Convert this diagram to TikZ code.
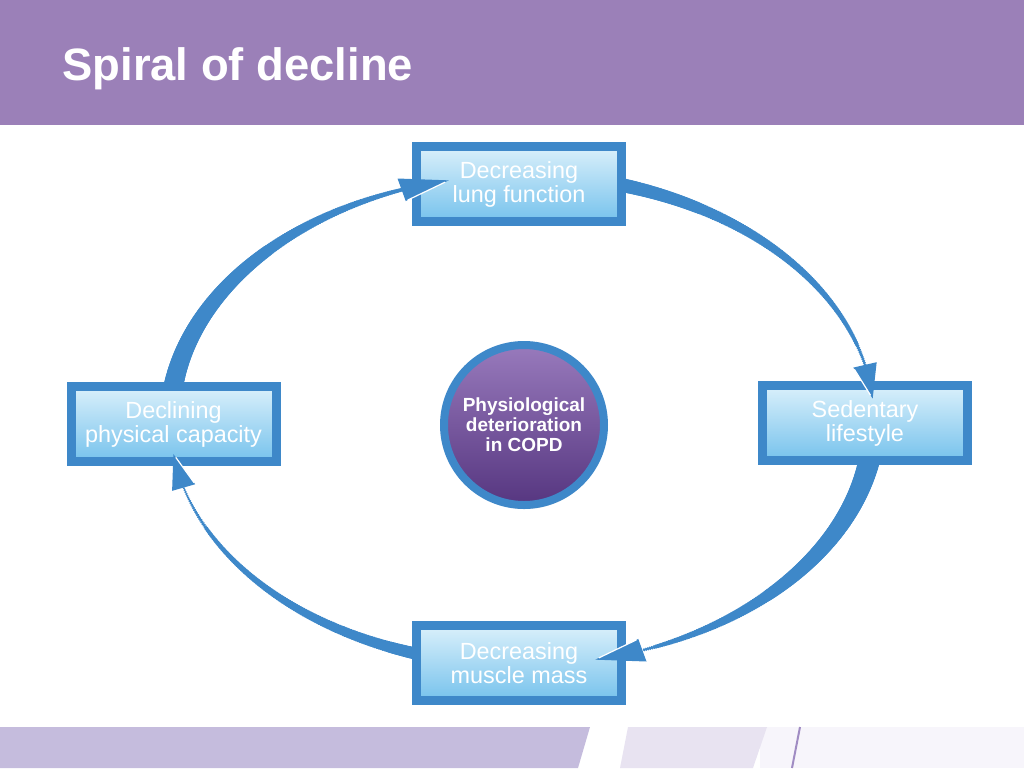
\documentclass[tikz,border=0pt]{standalone}
\usepackage{fontspec}
\setmainfont{Liberation Sans}
\usepackage{tikz}
\usetikzlibrary{calc,decorations.markings,shadows}
\usepackage{xcolor}
\definecolor{headpurple}{RGB}{155,128,184}
\definecolor{flowblue}{RGB}{62,136,201}
\definecolor{boxtop}{RGB}{218,240,251}
\definecolor{boxbot}{RGB}{118,194,236}
\definecolor{copdtop}{RGB}{152,122,188}
\definecolor{copdbot}{RGB}{86,54,128}
\definecolor{stripA}{RGB}{197,188,221}
\definecolor{stripB}{RGB}{232,227,241}
\definecolor{stripC}{RGB}{247,245,251}
\definecolor{stripline}{RGB}{160,140,195}

\begin{document}
\begin{tikzpicture}[x=0.5pt,y=-0.5pt,
  stepbox/.style={rectangle,draw=flowblue,line width=4.5pt,top color=boxtop,bottom color=boxbot,
    minimum width=102.5pt,minimum height=37.5pt,inner sep=0pt,align=center,text=white,
    font=\fontsize{11.7}{12}\selectfont,
    drop shadow={opacity=0.2,shadow xshift=1pt,shadow yshift=-1.5pt}},
  hub/.style={circle,draw=flowblue,line width=4pt,top color=copdtop,bottom color=copdbot,
    minimum size=80pt,inner sep=0pt,align=center,text=white,
    font=\bfseries\fontsize{9.5}{10}\selectfont,
    drop shadow={opacity=0.2,shadow xshift=0.5pt,shadow yshift=-2pt}},
  taper/.style 2 args={postaction={decorate},decoration={markings,
    mark=between positions 0 and 1 step 1pt with {
      \pgfmathsetmacro\rr{#1-(#1-#2)*\pgfkeysvalueof{/pgf/decoration/mark info/distance from start}/\pgfdecoratedpathlength}
      \fill[flowblue] (0,0) circle[radius=\rr pt];}}},
  gloss/.style={white,line width=0.6pt,shorten >=2pt,shorten <=1pt}
  ]
\useasboundingbox (0,0) rectangle (1024,768);
\def\cx{522}
\def\cy{420}
\def\rx{352}
\def\ry{245}
\def\hw{12}
% header and footer strip
\fill[headpurple] (0,0) rectangle (1024,125);
\node[anchor=base west,inner sep=0pt,text=white,font=\bfseries\fontsize{22.7}{26}\selectfont] (title) at (62,80) {Spiral of decline};
\fill[stripC] (760,727) rectangle (1024,768);
\fill[stripA] (0,727) -- (590,727) -- (578,768) -- (0,768) -- cycle;
\fill[stripB] (628,727) -- (767,727) -- (753,768) -- (620,768) -- cycle;
\draw[stripline,line width=1pt] (800,727) -- (792,768);
% points on the ellipse
\coordinate (a1s) at ({\cx+\rx*cos(187)},{\cy+\ry*sin(187)});   % out of capacity
\coordinate (a2s) at ({\cx+\rx*cos(285)},{\cy+\ry*sin(285)});   % out of lung
\coordinate (a3s) at ({\cx+\rx*cos(8)},{\cy+\ry*sin(8)});       % out of sedentary
\coordinate (a4s) at ({\cx+\rx*cos(105)},{\cy+\ry*sin(105)});   % out of muscle
% tapered tails
\path[taper={5}{1}] (a1s) arc[start angle=187,end angle=250,x radius=\rx,y radius=\ry];
\path[taper={3.6}{0.8}] (a2s) arc[start angle=285,end angle=347,x radius=\rx,y radius=\ry];
\path[taper={5.5}{0.8}] (a3s) arc[start angle=8,end angle=70,x radius=\rx,y radius=\ry];
\path[taper={3.2}{0.6}] (a4s) arc[start angle=105,end angle=164,x radius=\rx,y radius=\ry];
% boxes
\node[stepbox] (lung) at (519,184) {Decreasing\\lung function};
\node[stepbox] (sedentary) at (865,423) {Sedentary\\lifestyle};
\node[stepbox] (muscle) at (519,663) {Decreasing\\muscle mass};
\node[stepbox] (capacity) at (173.5,424) {Declining\\physical capacity};
\node[hub] (copd) at (524,425) {Physiological\\deterioration\\in COPD};
% arrow heads
\coordinate (a1t) at ({\cx+\rx*cos(258)},{\cy+\ry*sin(258)});   % into lung
\coordinate (a2t) at ({\cx+\rx*cos(355)},{\cy+\ry*sin(355)});   % into sedentary
\coordinate (a3t) at ({\cx+\rx*cos(78)},{\cy+\ry*sin(78)});     % into muscle
\coordinate (a4t) at ({\cx+\rx*cos(172)},{\cy+\ry*sin(172)});   % into capacity
\coordinate (a1i) at ({\cx+(\rx-\hw)*cos(250)},{\cy+(\ry-\hw)*sin(250)});
\coordinate (a2i) at ({\cx+(\rx-\hw)*cos(347)},{\cy+(\ry-\hw)*sin(347)});
\coordinate (a3i) at ({\cx+(\rx-\hw)*cos(70)},{\cy+(\ry-\hw)*sin(70)});
\coordinate (a4i) at ({\cx+(\rx-\hw)*cos(164)},{\cy+(\ry-\hw)*sin(164)});
\fill[flowblue] ({\cx+(\rx+\hw)*cos(250)},{\cy+(\ry+\hw)*sin(250)}) -- (a1t) -- (a1i) -- cycle;
\fill[flowblue] ({\cx+(\rx+\hw)*cos(347)},{\cy+(\ry+\hw)*sin(347)}) -- (a2t) -- (a2i) -- cycle;
\fill[flowblue] ({\cx+(\rx+\hw)*cos(70)},{\cy+(\ry+\hw)*sin(70)}) -- (a3t) -- (a3i) -- cycle;
\fill[flowblue] ({\cx+(\rx+\hw)*cos(164)},{\cy+(\ry+\hw)*sin(164)}) -- (a4t) -- (a4i) -- cycle;
\draw[gloss] (a1i) -- (a1t);
\draw[gloss] (a2i) -- (a2t);
\draw[gloss] (a3i) -- (a3t);
\draw[gloss] (a4i) -- (a4t);
\end{tikzpicture}
\end{document}
